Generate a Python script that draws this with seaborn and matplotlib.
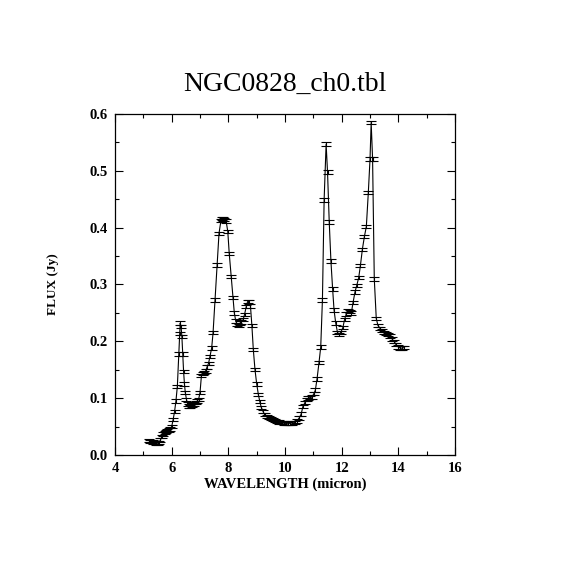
import numpy as np
import pandas as pd
import seaborn as sns
import matplotlib
matplotlib.use("Agg")
import matplotlib.pyplot as plt
from matplotlib.ticker import MultipleLocator

# spectrum
wavelength = [5.20, 5.25, 5.30, 5.35, 5.40, 5.45, 5.50, 5.55, 5.60, 5.65,
              5.70, 5.75, 5.80, 5.85, 5.90, 5.95, 6.00, 6.05, 6.10, 6.15,
              6.20, 6.25, 6.28, 6.30, 6.33, 6.36, 6.39, 6.42, 6.45, 6.48,
              6.52, 6.56, 6.60, 6.65, 6.70, 6.75, 6.80, 6.85, 6.90, 6.95,
              7.00, 7.05, 7.10, 7.15, 7.20, 7.25, 7.30, 7.35, 7.41, 7.46,
              7.53, 7.60, 7.67, 7.74, 7.78, 7.82, 7.86, 7.92, 7.98, 8.03,
              8.10, 8.16, 8.21, 8.26, 8.31, 8.36, 8.41, 8.46, 8.52, 8.57,
              8.63, 8.68, 8.73, 8.78, 8.83, 8.88, 8.94, 9.00, 9.06, 9.11,
              9.16, 9.22, 9.28, 9.35, 9.42, 9.50, 9.57, 9.65, 9.72, 9.80,
              9.88, 9.95, 10.02, 10.10, 10.18, 10.26, 10.34, 10.42, 10.50, 10.57,
              10.63, 10.70, 10.76, 10.82, 10.88, 10.95, 11.02, 11.07, 11.13, 11.20,
              11.26, 11.32, 11.38, 11.45, 11.50, 11.56, 11.62, 11.68, 11.73, 11.79,
              11.85, 11.91, 11.97, 12.04, 12.10, 12.16, 12.22, 12.28, 12.34, 12.40,
              12.47, 12.53, 12.60, 12.66, 12.73, 12.80, 12.87, 12.94, 13.00, 13.04,
              13.09, 13.15, 13.22, 13.28, 13.35, 13.42, 13.49, 13.56, 13.63, 13.70,
              13.78, 13.85, 13.92, 14.00, 14.07, 14.14, 14.20]
flux = [0.025, 0.024, 0.024, 0.023, 0.022, 0.021, 0.021, 0.022, 0.026, 0.032,
        0.037, 0.040, 0.041, 0.043, 0.044, 0.046, 0.050, 0.062, 0.076, 0.095,
        0.121, 0.178, 0.214, 0.232, 0.226, 0.208, 0.178, 0.147, 0.125, 0.110,
        0.098, 0.090, 0.086, 0.085, 0.087, 0.089, 0.090, 0.092, 0.095, 0.098,
        0.110, 0.140, 0.143, 0.145, 0.148, 0.155, 0.161, 0.173, 0.188, 0.215,
        0.273, 0.334, 0.390, 0.413, 0.416, 0.415, 0.414, 0.412, 0.393, 0.355,
        0.314, 0.277, 0.250, 0.236, 0.230, 0.228, 0.232, 0.234, 0.238, 0.247,
        0.261, 0.270, 0.269, 0.262, 0.228, 0.186, 0.150, 0.125, 0.106, 0.094,
        0.084, 0.077, 0.071, 0.068, 0.066, 0.064, 0.062, 0.061, 0.059, 0.058,
        0.057, 0.056, 0.055, 0.055, 0.056, 0.056, 0.057, 0.060, 0.065, 0.072,
        0.085, 0.092, 0.098, 0.100, 0.101, 0.102, 0.108, 0.114, 0.134, 0.163,
        0.190, 0.273, 0.449, 0.547, 0.498, 0.410, 0.341, 0.292, 0.255, 0.232,
        0.216, 0.212, 0.216, 0.224, 0.238, 0.248, 0.254, 0.252, 0.250, 0.268,
        0.287, 0.298, 0.312, 0.333, 0.362, 0.384, 0.402, 0.462, 0.521, 0.585,
        0.521, 0.310, 0.240, 0.228, 0.223, 0.219, 0.216, 0.214, 0.212, 0.209,
        0.204, 0.200, 0.194, 0.190, 0.188, 0.188, 0.189]
flux_err = 0.003

spec = pd.DataFrame({"wave": wavelength, "flux": flux})

sns.set_style("ticks")
plt.rcParams["font.family"] = ["Liberation Serif", "DejaVu Serif"]
plt.rcParams["text.color"] = "black"
plt.rcParams["axes.labelcolor"] = "black"

fig = plt.figure(figsize=(5.7, 5.7), dpi=100)
ax = fig.add_axes([0.2018, 0.2018, 0.5965, 0.5982])

sns.lineplot(data=spec, x="wave", y="flux", color="black", lw=0.8,
             sort=False, estimator=None, ax=ax)
ax.errorbar(spec["wave"], spec["flux"], yerr=flux_err, fmt="none",
            ecolor="black", elinewidth=0.8, capsize=3.6, capthick=0.8)

ax.set_xlim(4, 16)
ax.set_ylim(0, 0.6)
ax.xaxis.set_major_locator(MultipleLocator(2))
ax.xaxis.set_minor_locator(MultipleLocator(1))
ax.yaxis.set_major_locator(MultipleLocator(0.1))
ax.yaxis.set_minor_locator(MultipleLocator(0.05))
ax.yaxis.set_major_formatter(matplotlib.ticker.FormatStrFormatter("%.1f"))
ax.tick_params(which="both", direction="in", top=True, right=True,
               colors="black", width=0.8, labelsize=10.5)
ax.tick_params(which="major", length=6, pad=5)
ax.tick_params(which="minor", length=3)
for lab in ax.get_xticklabels() + ax.get_yticklabels():
    lab.set_fontweight("bold")
for sp in ax.spines.values():
    sp.set_visible(True)
    sp.set_linewidth(0.9)
    sp.set_color("black")

ax.set_xlabel("WAVELENGTH (micron)", fontsize=10.5, fontweight="bold", labelpad=2)
ax.set_ylabel("FLUX (Jy)", fontsize=9.5, fontweight="bold", labelpad=22)
ax.set_title("NGC0828_ch0.tbl", fontsize=20, pad=17)

fig.savefig("out.png", dpi=100, facecolor="white")
